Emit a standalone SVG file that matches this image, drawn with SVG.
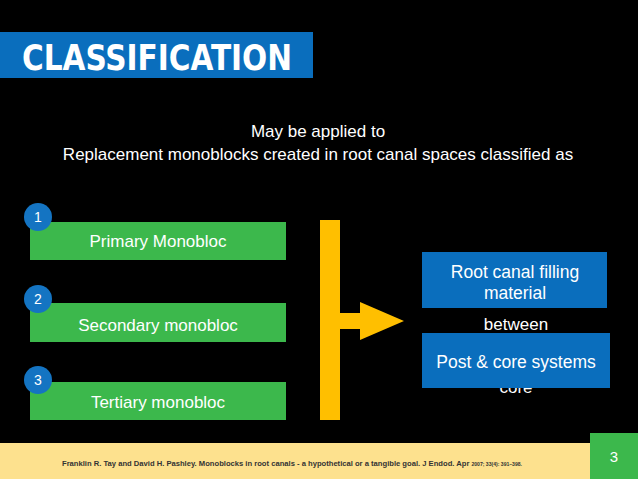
<svg xmlns="http://www.w3.org/2000/svg" width="638" height="479" viewBox="0 0 638 479">
<style>
.g{fill:#3cb84c}.gt{font:17px "Liberation Sans",sans-serif;fill:#fff;text-anchor:middle}
.c{fill:#1474c2}.ct{font:14px "Liberation Sans",sans-serif;fill:#fff;text-anchor:middle}
.b{fill:#0a6ebd}.bt{font:17.5px "Liberation Sans",sans-serif;fill:#fff;text-anchor:middle}
.w{font:17px "Liberation Sans",sans-serif;fill:#fff;text-anchor:middle}
</style>
<rect width="638" height="479" fill="#000"/>
<rect x="0" y="32" width="313" height="46" fill="#0a6ebd"/>
<text x="22" y="70" style="font:bold 36px 'Liberation Sans Narrow','DejaVu Sans Condensed',sans-serif;fill:#fff" textLength="270" lengthAdjust="spacingAndGlyphs">CLASSIFICATION</text>
<text class="w" x="318" y="137">May be applied to</text>
<text class="w" x="318" y="160">Replacement monoblocks created in root canal spaces classified as</text>
<g id="n1"><rect class="g" x="30" y="222" width="256" height="38"/><text class="gt" x="158" y="247">Primary Monobloc</text><circle class="c" cx="38" cy="217" r="14"/><text class="ct" x="38" y="222">1</text></g>
<g id="n2"><rect class="g" x="30" y="303" width="256" height="39"/><text class="gt" x="158" y="331">Secondary monobloc</text><circle class="c" cx="38" cy="299" r="14"/><text class="ct" x="38" y="304">2</text></g>
<g id="n3"><rect class="g" x="30" y="382" width="256" height="38"/><text class="gt" x="158" y="408">Tertiary  monobloc</text><circle class="c" cx="38" cy="380" r="14"/><text class="ct" x="38" y="385">3</text></g>
<g id="connectors"><path d="M320 220H340V313H360V302L404 321L360 340V329H340V420H320Z" fill="#ffbf00"/></g>
<text class="w" x="516" y="330">between</text>
<text class="w" x="516" y="393">core</text>
<g id="b1"><rect class="b" x="422" y="252" width="185" height="56"/><text class="bt" x="515" y="278">Root canal filling</text><text class="bt" x="515" y="299">material</text></g>
<g id="b2"><rect class="b" x="422" y="333" width="188" height="55"/><text class="bt" x="516" y="368">Post &amp; core systems</text></g>
<rect x="0" y="443" width="590" height="36" fill="#fde18e"/>
<rect x="590" y="433" width="48" height="46" fill="#3cb84c"/>
<text x="614" y="462" style="font:15px 'Liberation Sans',sans-serif;fill:#fff;text-anchor:middle">3</text>
<text x="62" y="466" style="font:bold 7.5px 'Liberation Sans',sans-serif;fill:#333" textLength="460" lengthAdjust="spacingAndGlyphs">Franklin R. Tay and David H. Pashley. Monoblocks in root canals - a hypothetical or a tangible goal. J Endod. Apr <tspan style="font-size:5px">2007; 33(4): 391–398.</tspan></text>
</svg>
